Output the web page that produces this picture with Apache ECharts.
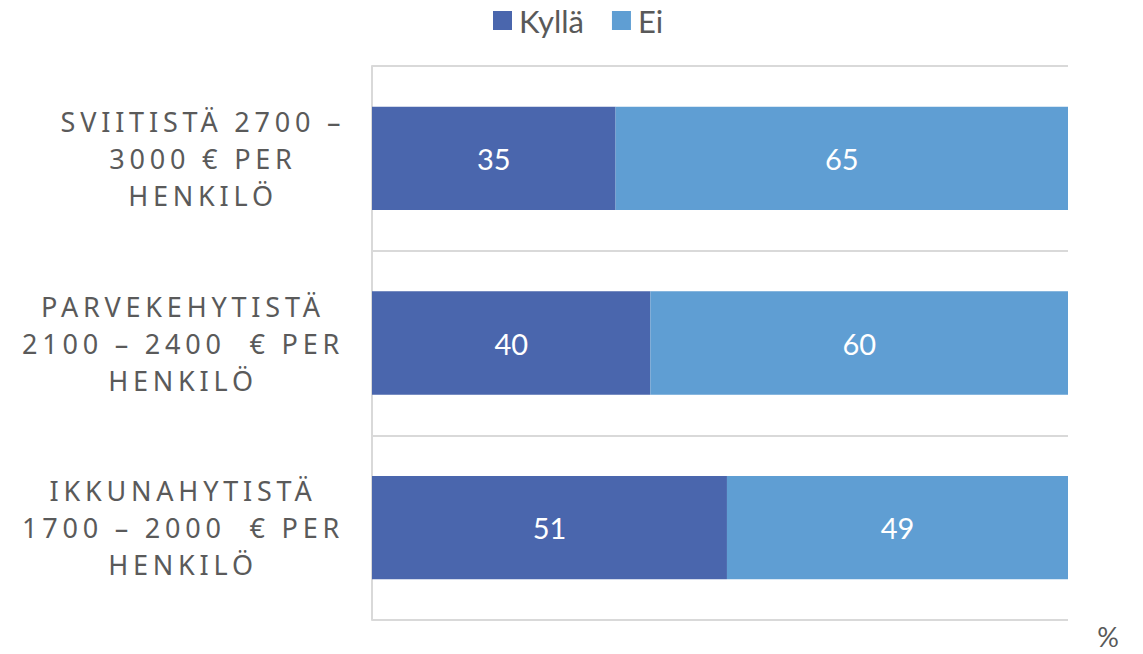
<!DOCTYPE html>
<html><head><meta charset="utf-8">
<script src="https://cdn.jsdelivr.net/npm/echarts@6/dist/echarts.min.js"></script>
<style>
html,body{margin:0;padding:0;background:#fff;}
#c{width:1143px;height:654px;}
#c text[fill="#5a5a5a"]{letter-spacing:4.8px;}
</style></head>
<body><div id="c"></div>
<script>
const categories = [
  'SVIITISTÄ 2700 –\n3000 € PER\nHENKILÖ',
  'PARVEKEHYTISTÄ\n2100 – 2400  € PER\nHENKILÖ',
  'IKKUNAHYTISTÄ\n1700 – 2000  € PER\nHENKILÖ'
];
const kylla = [35, 40, 51];
const ei = [65, 60, 49];
const seriesNames = ['Kyllä', 'Ei'];
const unitLabel = '%';

const blockWidths = [278, 318, 318];
const rich = {};
blockWidths.forEach((w, i) => {
  rich['b' + i] = {width: w, align: 'center', color: '#5a5a5a', fontSize: 27, fontFamily: 'Noto Sans', lineHeight: 37};
});

const chart = echarts.init(document.getElementById('c'), null, {renderer: 'svg'});
const labelStyle = {show: true, position: 'inside', color: '#ffffff', fontSize: 29, fontFamily: 'Lato'};
chart.setOption({
  animation: false,
  backgroundColor: '#ffffff',
  legend: {
    data: seriesNames,
    top: 0, left: 488,
    itemWidth: 19, itemHeight: 19, itemGap: 28,
    icon: 'rect',
    textStyle: {color: '#595959', fontSize: 31, fontFamily: 'Lato', padding: [0,0,0,2]}
  },
  grid: {left: 372, right: 75, top: 66, bottom: 34, containLabel: false},
  xAxis: {
    type: 'value', min: 0, max: 100,
    axisLabel: {show: false}, axisLine: {show: false}, axisTick: {show: false}, splitLine: {show: false}
  },
  yAxis: {
    type: 'category', inverse: true, data: categories,
    axisLine: {show: true, lineStyle: {color: '#d9d9d9', width: 2}},
    axisTick: {show: false},
    splitLine: {show: true, lineStyle: {color: '#d9d9d9', width: 2}},
    axisLabel: {
      align: 'right', margin: 30,
      formatter: (v, i) => v.split('\n').map(l => '{b' + i + '|' + l + '}').join('\n'),
      rich: rich
    }
  },
  series: [
    {name: seriesNames[0], type: 'bar', stack: 's', data: kylla, barWidth: '56%',
     itemStyle: {color: '#4a66ad'}, label: labelStyle},
    {name: seriesNames[1], type: 'bar', stack: 's', data: ei, barWidth: '56%',
     itemStyle: {color: '#5f9ed3'}, label: labelStyle}
  ],
  graphic: [{
    type: 'text', right: 24, bottom: 4,
    style: {text: unitLabel, fill: '#595959', fontSize: 27, fontFamily: 'Lato'}
  }]
});
</script></body></html>
